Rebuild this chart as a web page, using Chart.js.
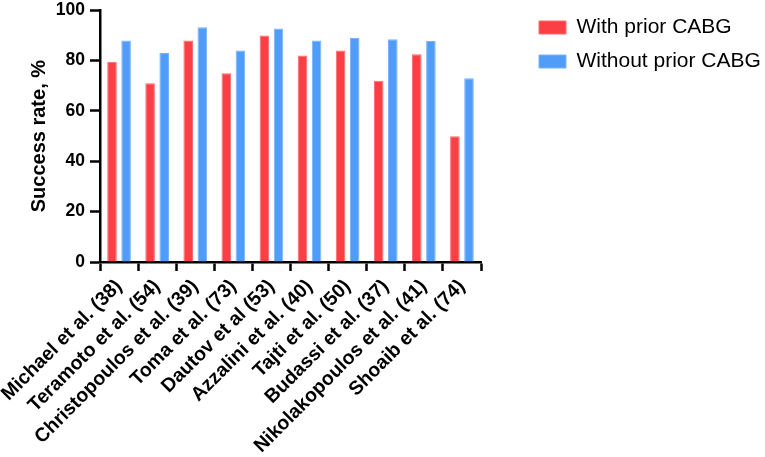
<!DOCTYPE html>
<html>
<head>
<meta charset="utf-8">
<script src="https://cdn.jsdelivr.net/npm/chart.js@4"></script>
<style>
  html, body { margin: 0; padding: 0; background: #fff; }
  #wrap { width: 765px; height: 457px; }
</style>
</head>
<body>
<div id="wrap"><canvas id="barChart"></canvas></div>
<script>
var studies = ['Michael et al. (38)', 'Teramoto et al. (54)', 'Christopoulos et al. (39)', 'Toma et al. (73)',
    'Dautov et al (53)', 'Azzalini et al. (40)', 'Tajti et al. (50)', 'Budassi et al. (37)',
    'Nikolakopoulos et al. (41)', 'Shoaib et al. (74)'];
var withPrior = [79.5, 71, 88, 75, 90, 82, 84, 72, 82.5, 50];
var withoutPrior = [88, 83, 93.2, 84, 92.8, 88, 89, 88.5, 87.8, 73];
var yTicks = [0, 20, 40, 60, 80, 100];

document.addEventListener('DOMContentLoaded', function () {
    var font = "'Liberation Sans', Arial, sans-serif";
    Chart.defaults.font.family = font;
    Chart.defaults.color = '#000';

    // legend sits apart from the plot, so widen it and nudge it over
    var legendFix = {
        id: 'legendFix',
        beforeLayout: function (chart) {
            var lg = chart.legend;
            if (lg && !lg._patched) {
                var fit = lg.fit;
                lg.fit = function () { fit.call(this); this.width = 284; };
                lg._patched = true;
            }
        },
        afterLayout: function (chart) {
            var lg = chart.legend;
            lg.left += 45; lg.right += 45;
            lg.top += 4; lg.bottom += 4;
        }
    };

    var ctx = document.getElementById('barChart').getContext('2d');
    new Chart(ctx, {
        type: 'bar',
        data: {
            labels: studies,
            datasets: [{
                label: 'With prior CABG',
                data: withPrior,
                backgroundColor: '#fc3f44',
                borderColor: '#fd6a6e',
                borderWidth: 1
            }, {
                label: 'Without prior CABG',
                data: withoutPrior,
                backgroundColor: '#4f9cf9',
                borderColor: '#78b3fa',
                borderWidth: 1
            }]
        },
        options: {
            responsive: true,
            maintainAspectRatio: false,
            animation: { duration: 0 },
            layout: { padding: 0 },
            categoryPercentage: 0.74,
            barPercentage: 0.68,
            plugins: {
                legend: {
                    position: 'right',
                    align: 'start',
                    labels: {
                        boxWidth: 27,
                        boxHeight: 13,
                        padding: 13,
                        font: { size: 21 },
                        color: '#000'
                    }
                },
                tooltip: { enabled: false }
            },
            scales: {
                x: {
                    grid: {
                        drawOnChartArea: false,
                        drawTicks: true,
                        tickLength: 9,
                        tickWidth: 2.5,
                        tickColor: '#000'
                    },
                    border: { color: '#000', width: 2.5 },
                    ticks: {
                        minRotation: 45,
                        maxRotation: 45,
                        padding: 4,
                        font: { size: 19.5, weight: 'bold' },
                        color: '#000'
                    },
                    afterFit: function (scale) {
                        scale.height = 195;
                        scale.paddingLeft = 0;
                        scale.paddingRight = 0;
                    }
                },
                y: {
                    min: 0,
                    max: 100,
                    afterBuildTicks: function (scale) {
                        scale.ticks = yTicks.map(function (v) { return { value: v }; });
                    },
                    grid: {
                        drawOnChartArea: false,
                        drawTicks: true,
                        tickLength: 10,
                        tickWidth: 2.5,
                        tickColor: '#000'
                    },
                    border: { color: '#000', width: 2.5 },
                    ticks: {
                        padding: 5,
                        font: { size: 17.5, weight: 'bold', lineHeight: 0.6 },
                        color: '#000'
                    },
                    title: {
                        display: true,
                        text: 'Success rate, %',
                        font: { size: 20, weight: 'bold' },
                        color: '#000',
                        padding: { top: 27, bottom: 0 }
                    },
                    afterFit: function (scale) { scale.width = 100; }
                }
            }
        },
        plugins: [legendFix]
    });
});
</script>
</body>
</html>
